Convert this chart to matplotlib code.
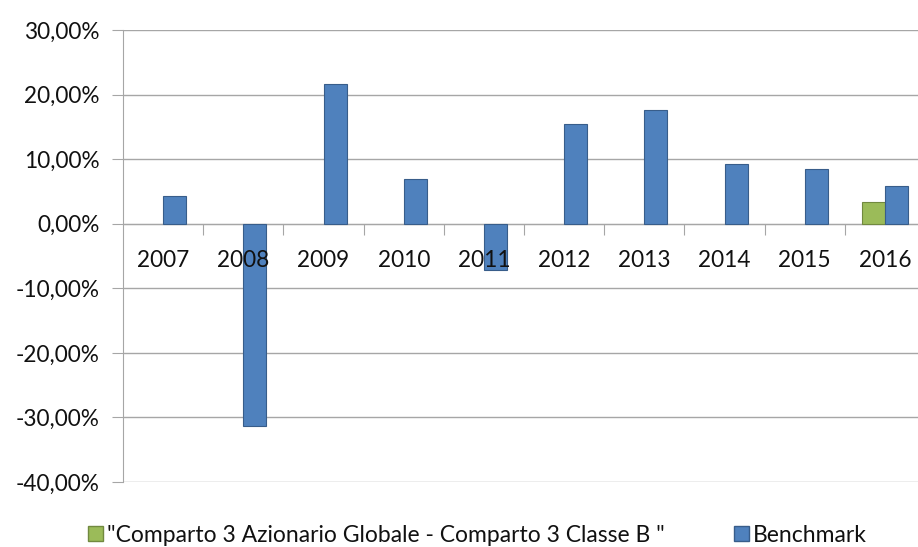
import numpy as np
import matplotlib
matplotlib.use("Agg")
import matplotlib.pyplot as plt
from matplotlib.patches import Patch
from matplotlib.ticker import FuncFormatter

plt.rcParams['font.family'] = ['Lato', 'DejaVu Sans']

# dati (rendimenti annui, %)
anni = ['2007', '2008', '2009', '2010', '2011', '2012', '2013', '2014', '2015', '2016']
comparto = [np.nan] * 9 + [3.3]
benchmark = [4.3, -31.4, 21.6, 6.9, -7.2, 15.5, 17.6, 9.3, 8.5, 5.9]

nome_comparto = '"Comparto 3 Azionario Globale - Comparto 3 Classe B "'
nome_bench = 'Benchmark'

blu, blu_bordo = '#4F81BD', '#385D8A'
verde, verde_bordo = '#9BBB59', '#71893F'
grigio = '#A6A6A6'

W, H = 918, 547
fig = plt.figure(figsize=(W / 100, H / 100), dpi=100)
ax = fig.add_axes([123 / W, 1 - 482 / H, (925 - 123) / W, (482 - 30) / H])

x = np.arange(len(anni))
w = 0.2875
ax.bar(x - w / 2, comparto, w, color=verde, edgecolor=verde_bordo, linewidth=0.8, zorder=3)
ax.bar(x + w / 2, benchmark, w, color=blu, edgecolor=blu_bordo, linewidth=0.8, zorder=3)

ax.set_xlim(-0.5, len(anni) - 0.5)
ax.set_ylim(-40, 30)
ax.set_yticks(np.arange(-40, 31, 10))
ax.yaxis.set_major_formatter(FuncFormatter(lambda v, p: f'{v:.2f}%'.replace('.', ',')))
ax.grid(axis='y', color=grigio, linewidth=1)

# griglia sotto le barre, etichette degli anni sopra
ax.yaxis.set_zorder(0.5)
ax.xaxis.set_zorder(4)

for s in ['top', 'right']:
    ax.spines[s].set_visible(False)
ax.spines['left'].set_color(grigio)
ax.spines['left'].set_zorder(2)
ax.spines['bottom'].set_position(('data', 0))
ax.spines['bottom'].set_color(grigio)
ax.spines['bottom'].set_zorder(2)

# tacche tra le categorie, etichette al centro
ax.set_xticks(np.arange(0.5, len(anni) - 0.5, 1))
ax.set_xticklabels([])
ax.tick_params(axis='x', which='major', length=8, color=grigio, direction='out')
ax.set_xticks(x, minor=True)
ax.set_xticklabels(anni, minor=True)
ax.tick_params(axis='x', which='minor', length=0, pad=19, labelsize=16.3, labelcolor='#111111')
ax.tick_params(axis='y', length=8, color=grigio, labelsize=16.3, labelcolor='#111111', pad=9)

maniglie = [Patch(facecolor=verde, edgecolor=verde_bordo), Patch(facecolor=blu, edgecolor=blu_bordo)]
fig.legend(maniglie, [nome_comparto, nome_bench], loc='center', bbox_to_anchor=(0.52, 1 - 535 / H),
           ncol=2, frameon=False, fontsize=16.5, handlelength=0.65, handleheight=0.65,
           handletextpad=0.2, columnspacing=3.0, labelcolor='#111111')

fig.savefig('out.png', dpi=100)
